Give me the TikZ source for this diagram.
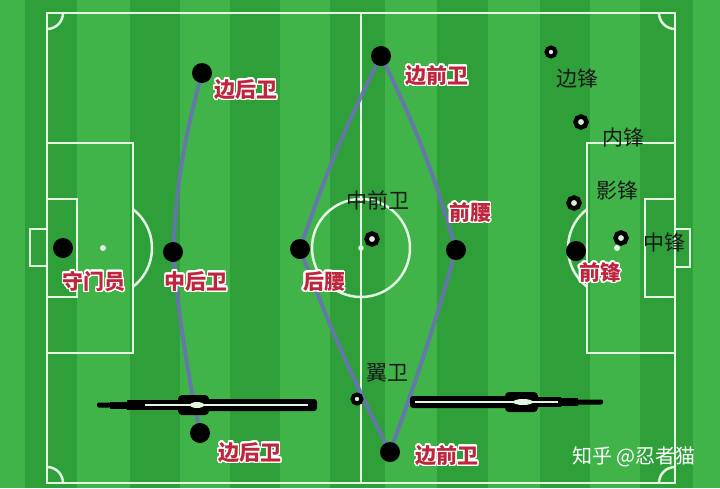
\documentclass[tikz,border=0pt]{standalone}
\usepackage{fontspec}
\newfontfamily\cjk{Noto Sans CJK SC}
\usepackage{contour}
\contourlength{1.4pt}
\contournumber{32}
\definecolor{lightg}{RGB}{64,180,72}
\definecolor{darkg}{RGB}{47,160,57}
\definecolor{linecol}{RGB}{226,246,226}
\definecolor{trackblue}{RGB}{105,115,178}
\definecolor{labred}{RGB}{190,38,62}
\definecolor{labblack}{RGB}{25,25,25}
\definecolor{ringfill}{RGB}{215,240,215}
\pgfdeclarelayer{field}
\pgfdeclarelayer{tracks}
\pgfsetlayers{field,tracks,main}
\tikzset{
  player/.style={circle, fill=black, minimum size=20pt, inner sep=0pt},
  ringdot/.style={circle, draw=black, line width=4.5pt, fill=ringfill, minimum size=11pt, inner sep=0pt},
  smallring/.style={ringdot, line width=4pt, minimum size=9pt},
  redlab/.style={font=\cjk\bfseries\fontsize{21}{21}\selectfont, text=labred, inner sep=0pt},
  blklab/.style={font=\cjk\fontsize{21}{21}\selectfont, text=labblack, inner sep=0pt},
  marklab/.style={font=\cjk\fontsize{20}{20}\selectfont, text=white, inner sep=0pt},
  track/.style={draw=trackblue, line width=4pt, line cap=round, line join=round, opacity=0.9},
  pitchline/.style={draw=linecol, line width=2.5pt},
}
\begin{document}
\begin{tikzpicture}[x=1pt,y=-1pt]
\useasboundingbox (0,0) rectangle (720,488);
\begin{pgfonlayer}{field}
  \fill[lightg] (0,0) rectangle (720,488);
  \foreach \a/\b in {25/77,130/180,230/280,330/385,437/488,540/590,640/693}
    \fill[darkg] (\a,0) rectangle (\b,488);
  % pitch markings
  \draw[pitchline] (47,13) rectangle (675,483);
  \draw[pitchline] (361,13) -- (361,483);
  \draw[pitchline] (361,248) circle[radius=49];
  \fill[linecol] (361,248) circle[radius=2.8];
  % left end
  \draw[pitchline] (47,143) rectangle (133,353);
  \draw[pitchline] (47,199) rectangle (77,297);
  \draw[pitchline] (30,229) rectangle (47,266);
  \fill[linecol] (103,248) circle[radius=3];
  \draw[pitchline] (103,248) ++(-52.2:49) arc[start angle=-52.2, end angle=52.2, radius=49];
  % right end
  \draw[pitchline] (587,143) rectangle (675,353);
  \draw[pitchline] (645,199) rectangle (675,297);
  \draw[pitchline] (675,229) rectangle (690,267);
  \fill[linecol] (617,248) circle[radius=3];
  \draw[pitchline] (617,248) ++(127.8:49) arc[start angle=127.8, end angle=232.2, radius=49];
  % corners
  \begin{scope}
    \clip (47,13) rectangle (675,483);
    \draw[pitchline] (47,13) circle[radius=16];
    \draw[pitchline] (675,13) circle[radius=16];
    \draw[pitchline] (47,483) circle[radius=16];
    \draw[pitchline] (675,483) circle[radius=16];
  \end{scope}
\end{pgfonlayer}

% players (black dots)
\node[player] (lbt) at (202,73) {};
\node[player] (gk)  at (63,248) {};
\node[player] (cb)  at (173,252) {};
\node[player] (dm)  at (300,249) {};
\node[player] (lbb) at (200,433) {};
\node[player] (wmt) at (381,56) {};
\node[player] (am)  at (456,250) {};
\node[player] (wmb) at (390,452) {};
\node[player] (st)  at (576,251) {};

% ringed positions
\node[smallring] (wf) at (551,52) {};
\node[ringdot] (inf) at (581,122) {};
\node[ringdot] (ss) at (574,203) {};
\node[ringdot] (cf) at (621,238) {};
\node[ringdot] (cm) at (372,239) {};
\node[smallring] (wb) at (357,399) {};

% tracks
\begin{pgfonlayer}{tracks}
  \draw[track] (lbt.center) to[bend right=6] (cb.center);
  \draw[track] (cb.center) to[bend right=3] (lbb.center);
  \draw[track] (dm.center) to[bend left=4] (wmt.center);
  \draw[track] (wmt.center) to[bend left=5] (am.center);
  \draw[track] (am.center) to[bend left=2] (wmb.center);
  \draw[track] (dm.center) to[bend right=3] (wmb.center);
\end{pgfonlayer}

% left arrow
\fill[black, rounded corners=3pt] (180,399) rectangle (317,411);
\fill[black, rounded corners=4pt] (178,395) rectangle (209,415);
\fill[black] (127,400) rectangle (182,410);
\fill[black] (110,401.5) rectangle (128,408.5);
\fill[black, rounded corners=2pt] (97,402.5) rectangle (111,407.5);
\draw[linecol, line width=1.3pt] (145,405) -- (308,405);
\fill[linecol] (197,405) ellipse[x radius=7, y radius=3];

% right arrow
\fill[black, rounded corners=3pt] (410,396) rectangle (507,408);
\fill[black, rounded corners=4pt] (505,392) rectangle (538,412);
\fill[black] (536,397) rectangle (561,407);
\fill[black] (559,398) rectangle (578,406);
\fill[black, rounded corners=2pt] (576,399.5) rectangle (603,404.5);
\draw[linecol, line width=1.3pt] (415,402) -- (558,402);
\fill[linecol] (523,402) ellipse[x radius=10, y radius=3];

% red labels
\node[redlab] (tlbt) at (246,90) {\contour{white}{边后卫}};
\node[redlab] (twmt) at (437,76) {\contour{white}{边前卫}};
\node[redlab] (tam)  at (470,213) {\contour{white}{前腰}};
\node[redlab] (tgk)  at (94,282) {\contour{white}{守门员}};
\node[redlab] (tcb)  at (196,282) {\contour{white}{中后卫}};
\node[redlab] (tdm)  at (324,282) {\contour{white}{后腰}};
\node[redlab] (tlbb) at (250,453) {\contour{white}{边后卫}};
\node[redlab] (tst)  at (600,273) {\contour{white}{前锋}};
\node[redlab] (twmb) at (447,456) {\contour{white}{边前卫}};

% black labels
\node[blklab] (twf) at (577,79) {边锋};
\node[blklab] (tinf) at (623,138) {内锋};
\node[blklab] (tss) at (617,191) {影锋};
\node[blklab] (tcf) at (664,243) {中锋};
\node[blklab] (tcm) at (378,200) {中前卫};
\node[blklab] (twb) at (387,373) {翼卫};

% watermark
\node[marklab] (wm) at (634,457) {知乎 @忍者猫};
\end{tikzpicture}
\end{document}
